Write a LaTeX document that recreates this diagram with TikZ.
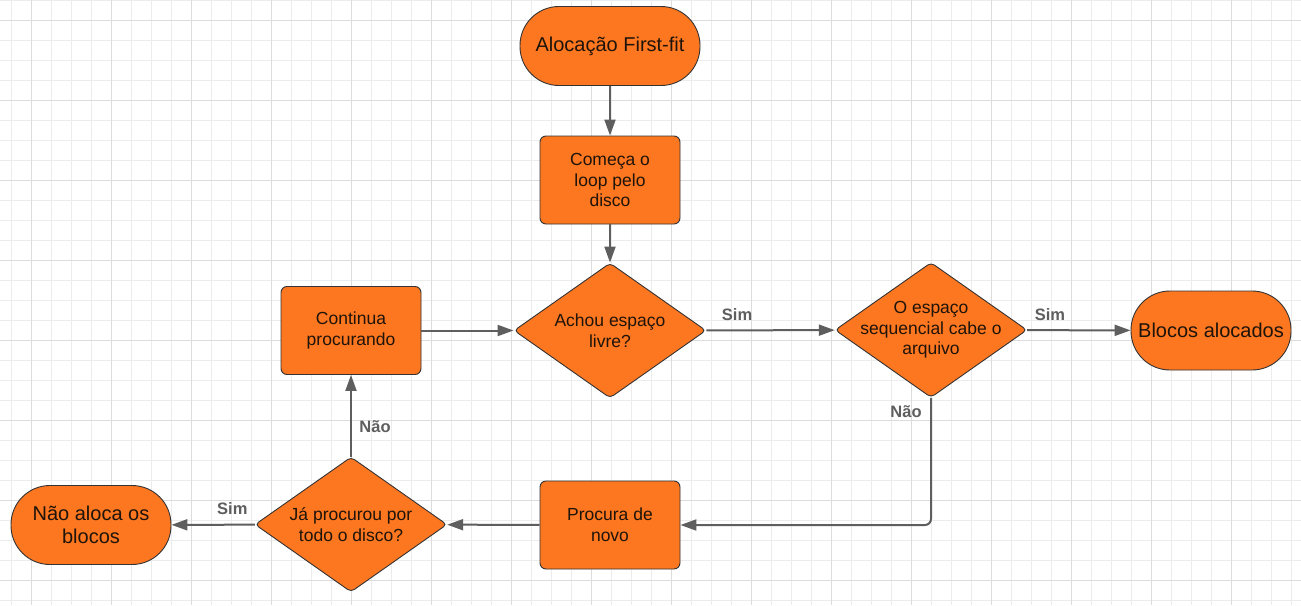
\documentclass[tikz,border=0pt]{standalone}
\usepackage{fontspec}
\setmainfont{Liberation Sans}
\usetikzlibrary{shapes.geometric,arrows.meta}
\definecolor{boxorange}{RGB}{253,118,32}
\definecolor{edgegray}{RGB}{94,94,94}
\definecolor{txtcol}{RGB}{30,20,10}
\definecolor{gridminor}{RGB}{236,236,236}
\definecolor{gridmajor}{RGB}{220,220,220}
\begin{document}
\begin{tikzpicture}[x=1pt,y=-1pt,
 base/.style={draw=black!80, line width=0.9pt, fill=boxorange, text=txtcol, align=center, inner sep=0pt},
 term/.style={base, rounded corners=39pt, minimum width=180pt, minimum height=79pt, font=\fontsize{20}{23.3}\selectfont},
 proc/.style={base, rounded corners=6pt, minimum width=140pt, minimum height=88pt, font=\fontsize{17.5}{20.7}\selectfont},
 dec/.style={base, diamond, rounded corners=4pt, minimum width=192pt, minimum height=135pt},
 dectext/.style={text=txtcol, align=center, inner sep=0pt, font=\fontsize{17.5}{20.7}\selectfont},
 conn/.style={draw=edgegray, line width=2pt, -{Triangle[length=16pt,width=11pt]}},
 lbl/.style={text=edgegray, inner sep=0pt, font=\fontsize{16.5}{19}\selectfont\bfseries},
 minorline/.style={draw=gridminor, line width=1pt},
 majorline/.style={draw=gridmajor, line width=1pt},
]
\useasboundingbox (0,0) rectangle (1301,605);
\fill[white] (0,0) rectangle (1301,605);
% grid
\foreach \i in {0,...,64} \draw[minorline] ({11.7+20*\i},0) -- ({11.7+20*\i},605);
\foreach \j in {0,...,30} \draw[minorline] (0,{20*\j}) -- (1301,{20*\j});
\foreach \i in {0,...,15} \draw[majorline] ({31.7+80*\i},0) -- ({31.7+80*\i},605);
\foreach \j in {0,...,7} \draw[majorline] (0,{20+80*\j}) -- (1301,{20+80*\j});

% nodes
\node[term] (start) at (610,46) {Alocação First-fit};
\node[proc] (loop) at (610,180) {Começa o\\loop pelo\\disco};
\node[dec] (achou) at (610,330.5) {};
\node[dectext] (achout) at (achou.center) {Achou espaço\\livre?};
\node[proc] (cont) at (351,330.5) {Continua\\procurando};
\node[dec] (cabe) at (931,330) {};
\node[dectext] (cabet) at (cabe.center) {O espaço\\sequencial cabe o\\arquivo};
\node[term, minimum width=160pt] (aloc) at (1211,330.5) {Blocos alocados};
\node[proc] (proc2) at (610,525) {Procura de\\novo};
\node[dec] (ja) at (351,524.5) {};
\node[dectext] (jat) at (ja.center) {Já procurou por\\todo o disco?};
\node[term, minimum width=160pt] (nao) at (91,525) {Não aloca os\\blocos};

% connectors
\draw[conn] (start) -- (loop);
\draw[conn] (loop) -- (achou);
\draw[conn] (cont) -- (achou);
\draw[conn] (achou) -- node[lbl, pos=0.24, yshift=16pt] {Sim} (cabe);
\draw[conn] (cabe) -- node[lbl, pos=0.22, yshift=16pt] {Sim} (aloc);
\draw[conn, rounded corners=6pt] (cabe) |- node[lbl, pos=0.055, xshift=-25pt] {Não} (proc2);
\draw[conn] (proc2) -- (ja);
\draw[conn] (ja) -- node[lbl, pos=0.27, yshift=16pt] {Sim} (nao);
\draw[conn] (ja) -- node[lbl, pos=0.37, xshift=24pt] {Não} (cont);
\end{tikzpicture}
\end{document}
